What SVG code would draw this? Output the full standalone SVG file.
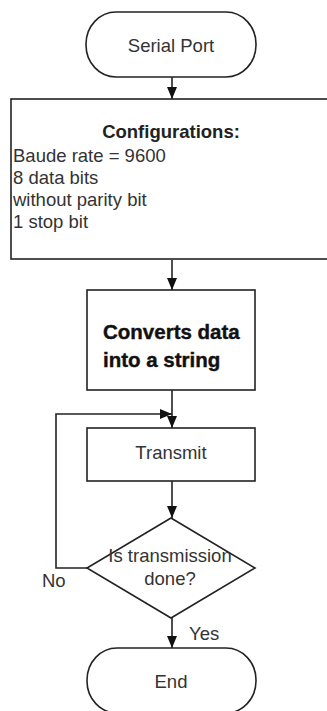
<svg xmlns="http://www.w3.org/2000/svg" width="327" height="711" viewBox="0 0 327 711">
<defs>
<style>
.shape{fill:#fff;stroke:#222;stroke-width:1.6}
.conn{fill:none;stroke:#222;stroke-width:1.6}
.t{font-family:"Liberation Sans",Arial,sans-serif;font-size:18.5px;fill:#333}
.tb{font-family:"Liberation Sans",Arial,sans-serif;font-size:18.5px;font-weight:bold;fill:#222}
.tbig{font-family:"Liberation Sans",Arial,sans-serif;font-size:20.5px;font-weight:bold;fill:#111;stroke:#111;stroke-width:0.4}
</style>
<marker id="arr" viewBox="0 0 12 10" refX="12" refY="5" markerWidth="12" markerHeight="10" markerUnits="userSpaceOnUse" orient="auto">
<path d="M0,0 L12,5 L0,10 Z" fill="#111"/>
</marker>
</defs>
<rect width="327" height="711" fill="#fff"/>
<g id="connectors">
<line class="conn" x1="172" y1="77" x2="172" y2="99" marker-end="url(#arr)"/>
<line class="conn" x1="172" y1="260" x2="172" y2="290" marker-end="url(#arr)"/>
<line class="conn" x1="172" y1="390" x2="172" y2="428" marker-end="url(#arr)"/>
<line class="conn" x1="172" y1="481" x2="172" y2="518" marker-end="url(#arr)"/>
<line class="conn" x1="172" y1="618" x2="172" y2="648" marker-end="url(#arr)"/>
<polyline class="conn" points="87,568 56,568 56,414 172,414" marker-end="url(#arr)"/>
</g>
<g id="serial-port">
<rect class="shape" x="86" y="12" width="170" height="65" rx="30" ry="32"/>
<text class="t" x="171" y="52" text-anchor="middle">Serial Port</text>
</g>
<g id="configurations">
<rect class="shape" x="11" y="99" width="330" height="160"/>
<text class="tb" x="171" y="138" text-anchor="middle">Configurations:</text>
<text class="t" x="13" y="162">Baude rate = 9600</text>
<text class="t" x="13" y="184">8 data bits</text>
<text class="t" x="13" y="206">without parity bit</text>
<text class="t" x="13" y="228">1 stop bit</text>
</g>
<g id="converts">
<rect class="shape" x="87" y="290" width="168" height="100"/>
<text class="tbig" x="103" y="339">Converts data</text>
<text class="tbig" x="103" y="367">into a string</text>
</g>
<g id="transmit">
<rect class="shape" x="87" y="428" width="168" height="53"/>
<text class="t" x="171" y="459" text-anchor="middle">Transmit</text>
</g>
<g id="decision">
<polygon class="shape" points="171,518 255,568 171,618 87,568"/>
<text class="t" x="170" y="562" text-anchor="middle">Is transmission</text>
<text class="t" x="170" y="585" text-anchor="middle">done?</text>
</g>
<g id="labels">
<text class="t" x="42" y="587">No</text>
<text class="t" x="189" y="640">Yes</text>
</g>
<g id="end">
<rect class="shape" x="87" y="648" width="169" height="65" rx="30" ry="32"/>
<text class="t" x="171" y="688" text-anchor="middle">End</text>
</g>
</svg>
